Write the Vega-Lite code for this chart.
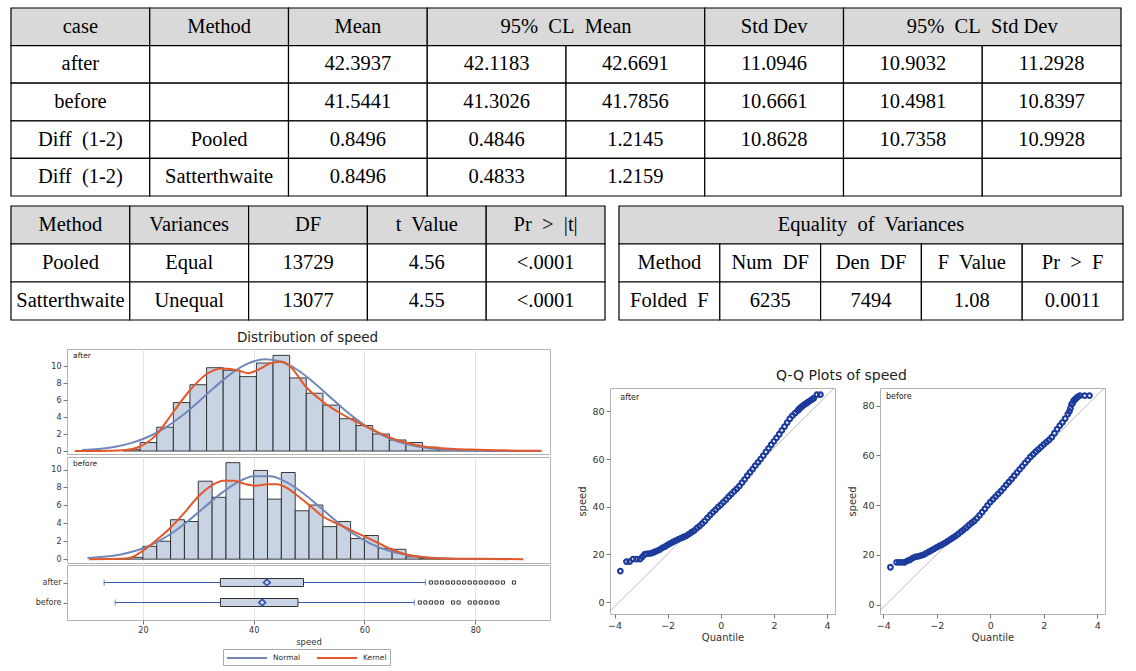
{
"$schema": "https://vega.github.io/schema/vega-lite/v6.json",
"padding": {"left": 10, "top": 7, "right": 5, "bottom": 0},
"background": "white",
"config": {
  "view": {"stroke": "#b3b3b3", "strokeWidth": 1},
  "font": "DejaVu Sans",
  "axis": {"labelFont": "DejaVu Sans", "titleFont": "DejaVu Sans", "labelColor": "#333", "titleColor": "#333", "tickColor": "#777", "domain": false, "grid": false, "titleFontWeight": "normal", "labelOverlap": false},
  "title": {"font": "DejaVu Sans", "fontWeight": "normal", "color": "#222"}
},
"datasets": {
  "t1": [
    {"r":0,"c0":0,"c1":1,"cx":0.5,"txt":"case","head":true},
    {"r":0,"c0":1,"c1":2,"cx":1.5,"txt":"Method","head":true},
    {"r":0,"c0":2,"c1":3,"cx":2.5,"txt":"Mean","head":true},
    {"r":0,"c0":3,"c1":5,"cx":4,"txt":"95%\u00a0 CL\u00a0 Mean","head":true},
    {"r":0,"c0":5,"c1":6,"cx":5.5,"txt":"Std Dev","head":true},
    {"r":0,"c0":6,"c1":8,"cx":7,"txt":"95%\u00a0 CL\u00a0 Std Dev","head":true},
    {"r":1,"c0":0,"c1":1,"cx":0.5,"txt":"after","head":false},
    {"r":1,"c0":1,"c1":2,"cx":1.5,"txt":"","head":false},
    {"r":1,"c0":2,"c1":3,"cx":2.5,"txt":"42.3937","head":false},
    {"r":1,"c0":3,"c1":4,"cx":3.5,"txt":"42.1183","head":false},
    {"r":1,"c0":4,"c1":5,"cx":4.5,"txt":"42.6691","head":false},
    {"r":1,"c0":5,"c1":6,"cx":5.5,"txt":"11.0946","head":false},
    {"r":1,"c0":6,"c1":7,"cx":6.5,"txt":"10.9032","head":false},
    {"r":1,"c0":7,"c1":8,"cx":7.5,"txt":"11.2928","head":false},
    {"r":2,"c0":0,"c1":1,"cx":0.5,"txt":"before","head":false},
    {"r":2,"c0":1,"c1":2,"cx":1.5,"txt":"","head":false},
    {"r":2,"c0":2,"c1":3,"cx":2.5,"txt":"41.5441","head":false},
    {"r":2,"c0":3,"c1":4,"cx":3.5,"txt":"41.3026","head":false},
    {"r":2,"c0":4,"c1":5,"cx":4.5,"txt":"41.7856","head":false},
    {"r":2,"c0":5,"c1":6,"cx":5.5,"txt":"10.6661","head":false},
    {"r":2,"c0":6,"c1":7,"cx":6.5,"txt":"10.4981","head":false},
    {"r":2,"c0":7,"c1":8,"cx":7.5,"txt":"10.8397","head":false},
    {"r":3,"c0":0,"c1":1,"cx":0.5,"txt":"Diff\u00a0 (1-2)","head":false},
    {"r":3,"c0":1,"c1":2,"cx":1.5,"txt":"Pooled","head":false},
    {"r":3,"c0":2,"c1":3,"cx":2.5,"txt":"0.8496","head":false},
    {"r":3,"c0":3,"c1":4,"cx":3.5,"txt":"0.4846","head":false},
    {"r":3,"c0":4,"c1":5,"cx":4.5,"txt":"1.2145","head":false},
    {"r":3,"c0":5,"c1":6,"cx":5.5,"txt":"10.8628","head":false},
    {"r":3,"c0":6,"c1":7,"cx":6.5,"txt":"10.7358","head":false},
    {"r":3,"c0":7,"c1":8,"cx":7.5,"txt":"10.9928","head":false},
    {"r":4,"c0":0,"c1":1,"cx":0.5,"txt":"Diff\u00a0 (1-2)","head":false},
    {"r":4,"c0":1,"c1":2,"cx":1.5,"txt":"Satterthwaite","head":false},
    {"r":4,"c0":2,"c1":3,"cx":2.5,"txt":"0.8496","head":false},
    {"r":4,"c0":3,"c1":4,"cx":3.5,"txt":"0.4833","head":false},
    {"r":4,"c0":4,"c1":5,"cx":4.5,"txt":"1.2159","head":false},
    {"r":4,"c0":5,"c1":6,"cx":5.5,"txt":"","head":false},
    {"r":4,"c0":6,"c1":7,"cx":6.5,"txt":"","head":false},
    {"r":4,"c0":7,"c1":8,"cx":7.5,"txt":"","head":false}
  ],
  "t2": [
    {"r":0,"c0":0,"c1":1,"cx":0.5,"txt":"Method","head":true},
    {"r":0,"c0":1,"c1":2,"cx":1.5,"txt":"Variances","head":true},
    {"r":0,"c0":2,"c1":3,"cx":2.5,"txt":"DF","head":true},
    {"r":0,"c0":3,"c1":4,"cx":3.5,"txt":"t\u00a0 Value","head":true},
    {"r":0,"c0":4,"c1":5,"cx":4.5,"txt":"Pr\u00a0 >\u00a0 |t|","head":true},
    {"r":1,"c0":0,"c1":1,"cx":0.5,"txt":"Pooled","head":false},
    {"r":1,"c0":1,"c1":2,"cx":1.5,"txt":"Equal","head":false},
    {"r":1,"c0":2,"c1":3,"cx":2.5,"txt":"13729","head":false},
    {"r":1,"c0":3,"c1":4,"cx":3.5,"txt":"4.56","head":false},
    {"r":1,"c0":4,"c1":5,"cx":4.5,"txt":"<.0001","head":false},
    {"r":2,"c0":0,"c1":1,"cx":0.5,"txt":"Satterthwaite","head":false},
    {"r":2,"c0":1,"c1":2,"cx":1.5,"txt":"Unequal","head":false},
    {"r":2,"c0":2,"c1":3,"cx":2.5,"txt":"13077","head":false},
    {"r":2,"c0":3,"c1":4,"cx":3.5,"txt":"4.55","head":false},
    {"r":2,"c0":4,"c1":5,"cx":4.5,"txt":"<.0001","head":false}
  ],
  "t3": [
    {"r":0,"c0":0,"c1":5,"cx":2.5,"txt":"Equality\u00a0 of\u00a0 Variances","head":true},
    {"r":1,"c0":0,"c1":1,"cx":0.5,"txt":"Method","head":false},
    {"r":1,"c0":1,"c1":2,"cx":1.5,"txt":"Num\u00a0 DF","head":false},
    {"r":1,"c0":2,"c1":3,"cx":2.5,"txt":"Den\u00a0 DF","head":false},
    {"r":1,"c0":3,"c1":4,"cx":3.5,"txt":"F\u00a0 Value","head":false},
    {"r":1,"c0":4,"c1":5,"cx":4.5,"txt":"Pr\u00a0 >\u00a0 F","head":false},
    {"r":2,"c0":0,"c1":1,"cx":0.5,"txt":"Folded\u00a0 F","head":false},
    {"r":2,"c0":1,"c1":2,"cx":1.5,"txt":"6235","head":false},
    {"r":2,"c0":2,"c1":3,"cx":2.5,"txt":"7494","head":false},
    {"r":2,"c0":3,"c1":4,"cx":3.5,"txt":"1.08","head":false},
    {"r":2,"c0":4,"c1":5,"cx":4.5,"txt":"0.0011","head":false}
  ],
  "bins": [
    {"case":"after","lo":16.5,"hi":19.5,"pct":0.15},
    {"case":"after","lo":19.5,"hi":22.5,"pct":1.0},
    {"case":"after","lo":22.5,"hi":25.5,"pct":2.8},
    {"case":"after","lo":25.5,"hi":28.5,"pct":5.7},
    {"case":"after","lo":28.5,"hi":31.5,"pct":7.8},
    {"case":"after","lo":31.5,"hi":34.5,"pct":9.8},
    {"case":"after","lo":34.5,"hi":37.5,"pct":9.5},
    {"case":"after","lo":37.5,"hi":40.5,"pct":8.75},
    {"case":"after","lo":40.5,"hi":43.5,"pct":10.35},
    {"case":"after","lo":43.5,"hi":46.5,"pct":11.25},
    {"case":"after","lo":46.5,"hi":49.5,"pct":8.6},
    {"case":"after","lo":49.5,"hi":52.5,"pct":6.8},
    {"case":"after","lo":52.5,"hi":55.5,"pct":5.4},
    {"case":"after","lo":55.5,"hi":58.5,"pct":3.8},
    {"case":"after","lo":58.5,"hi":61.5,"pct":3.0},
    {"case":"after","lo":61.5,"hi":64.5,"pct":2.0},
    {"case":"after","lo":64.5,"hi":67.5,"pct":1.3},
    {"case":"after","lo":67.5,"hi":70.5,"pct":1.0},
    {"case":"after","lo":70.5,"hi":73.5,"pct":0.45},
    {"case":"after","lo":73.5,"hi":76.5,"pct":0.25},
    {"case":"after","lo":76.5,"hi":79.5,"pct":0.12},
    {"case":"after","lo":79.5,"hi":82.5,"pct":0.1},
    {"case":"after","lo":82.5,"hi":85.5,"pct":0.05},
    {"case":"after","lo":85.5,"hi":88.5,"pct":0.03},
    {"case":"before","lo":15,"hi":17.5,"pct":0.05},
    {"case":"before","lo":17.5,"hi":20,"pct":0.2},
    {"case":"before","lo":20,"hi":22.5,"pct":1.43},
    {"case":"before","lo":22.5,"hi":25,"pct":2.0},
    {"case":"before","lo":25,"hi":27.5,"pct":4.4},
    {"case":"before","lo":27.5,"hi":30,"pct":4.2},
    {"case":"before","lo":30,"hi":32.5,"pct":8.7},
    {"case":"before","lo":32.5,"hi":35,"pct":6.9},
    {"case":"before","lo":35,"hi":37.5,"pct":10.77},
    {"case":"before","lo":37.5,"hi":40,"pct":6.7},
    {"case":"before","lo":40,"hi":42.5,"pct":9.9},
    {"case":"before","lo":42.5,"hi":45,"pct":6.7},
    {"case":"before","lo":45,"hi":47.5,"pct":9.67},
    {"case":"before","lo":47.5,"hi":50,"pct":5.4},
    {"case":"before","lo":50,"hi":52.5,"pct":6.04},
    {"case":"before","lo":52.5,"hi":55,"pct":3.63},
    {"case":"before","lo":55,"hi":57.5,"pct":4.2},
    {"case":"before","lo":57.5,"hi":60,"pct":2.3},
    {"case":"before","lo":60,"hi":62.5,"pct":2.64},
    {"case":"before","lo":62.5,"hi":65,"pct":1.2},
    {"case":"before","lo":65,"hi":67.5,"pct":1.1},
    {"case":"before","lo":67.5,"hi":70,"pct":0.26},
    {"case":"before","lo":70,"hi":72.5,"pct":0.1},
    {"case":"before","lo":72.5,"hi":75,"pct":0.06},
    {"case":"before","lo":75,"hi":77.5,"pct":0.04},
    {"case":"before","lo":77.5,"hi":80,"pct":0.04},
    {"case":"before","lo":80,"hi":82.5,"pct":0.05},
    {"case":"before","lo":82.5,"hi":85,"pct":0.04}
  ],
  "curves": [
    {"case":"after","curve":"Normal","x":9,"y":0.12},
    {"case":"after","curve":"Normal","x":12,"y":0.25},
    {"case":"after","curve":"Normal","x":15,"y":0.51},
    {"case":"after","curve":"Normal","x":18,"y":0.96},
    {"case":"after","curve":"Normal","x":21,"y":1.68},
    {"case":"after","curve":"Normal","x":24,"y":2.73},
    {"case":"after","curve":"Normal","x":27,"y":4.12},
    {"case":"after","curve":"Normal","x":30,"y":5.78},
    {"case":"after","curve":"Normal","x":33,"y":7.54},
    {"case":"after","curve":"Normal","x":36,"y":9.14},
    {"case":"after","curve":"Normal","x":39,"y":10.3},
    {"case":"after","curve":"Normal","x":42,"y":10.79},
    {"case":"after","curve":"Normal","x":45,"y":10.5},
    {"case":"after","curve":"Normal","x":48,"y":9.5},
    {"case":"after","curve":"Normal","x":51,"y":7.98},
    {"case":"after","curve":"Normal","x":54,"y":6.24},
    {"case":"after","curve":"Normal","x":57,"y":4.53},
    {"case":"after","curve":"Normal","x":60,"y":3.06},
    {"case":"after","curve":"Normal","x":63,"y":1.92},
    {"case":"after","curve":"Normal","x":66,"y":1.12},
    {"case":"after","curve":"Normal","x":69,"y":0.61},
    {"case":"after","curve":"Normal","x":72,"y":0.31},
    {"case":"after","curve":"Normal","x":75,"y":0.14},
    {"case":"after","curve":"Normal","x":78,"y":0.06},
    {"case":"after","curve":"Normal","x":81,"y":0.02},
    {"case":"after","curve":"Normal","x":84,"y":0.01},
    {"case":"after","curve":"Normal","x":88,"y":0},
    {"case":"after","curve":"Normal","x":92,"y":0},
    {"case":"before","curve":"Normal","x":10,"y":0.12},
    {"case":"before","curve":"Normal","x":13,"y":0.26},
    {"case":"before","curve":"Normal","x":16,"y":0.53},
    {"case":"before","curve":"Normal","x":19,"y":1.0},
    {"case":"before","curve":"Normal","x":22,"y":1.74},
    {"case":"before","curve":"Normal","x":25,"y":2.81},
    {"case":"before","curve":"Normal","x":28,"y":4.18},
    {"case":"before","curve":"Normal","x":31,"y":5.74},
    {"case":"before","curve":"Normal","x":34,"y":7.28},
    {"case":"before","curve":"Normal","x":37,"y":8.54},
    {"case":"before","curve":"Normal","x":40,"y":9.25},
    {"case":"before","curve":"Normal","x":43,"y":9.26},
    {"case":"before","curve":"Normal","x":46,"y":8.56},
    {"case":"before","curve":"Normal","x":49,"y":7.32},
    {"case":"before","curve":"Normal","x":52,"y":5.78},
    {"case":"before","curve":"Normal","x":55,"y":4.21},
    {"case":"before","curve":"Normal","x":58,"y":2.84},
    {"case":"before","curve":"Normal","x":61,"y":1.77},
    {"case":"before","curve":"Normal","x":64,"y":1.02},
    {"case":"before","curve":"Normal","x":67,"y":0.54},
    {"case":"before","curve":"Normal","x":70,"y":0.27},
    {"case":"before","curve":"Normal","x":73,"y":0.12},
    {"case":"before","curve":"Normal","x":76,"y":0.05},
    {"case":"before","curve":"Normal","x":79,"y":0.02},
    {"case":"before","curve":"Normal","x":82,"y":0.01},
    {"case":"before","curve":"Normal","x":86,"y":0},
    {"case":"after","curve":"Kernel","x":7.7,"y":0},
    {"case":"after","curve":"Kernel","x":12,"y":0.01},
    {"case":"after","curve":"Kernel","x":16.5,"y":0.08},
    {"case":"after","curve":"Kernel","x":19.4,"y":0.5},
    {"case":"after","curve":"Kernel","x":22.4,"y":1.9},
    {"case":"after","curve":"Kernel","x":25.4,"y":4.5},
    {"case":"after","curve":"Kernel","x":28.3,"y":7.0},
    {"case":"after","curve":"Kernel","x":31.4,"y":9.0},
    {"case":"after","curve":"Kernel","x":34.4,"y":9.7},
    {"case":"after","curve":"Kernel","x":37.4,"y":9.45},
    {"case":"after","curve":"Kernel","x":39,"y":9.15},
    {"case":"after","curve":"Kernel","x":40.5,"y":9.45},
    {"case":"after","curve":"Kernel","x":43.5,"y":10.4},
    {"case":"after","curve":"Kernel","x":45.2,"y":10.5},
    {"case":"after","curve":"Kernel","x":46.5,"y":10.0},
    {"case":"after","curve":"Kernel","x":49.5,"y":7.5},
    {"case":"after","curve":"Kernel","x":52.5,"y":5.8},
    {"case":"after","curve":"Kernel","x":55.5,"y":4.5},
    {"case":"after","curve":"Kernel","x":58.5,"y":3.45},
    {"case":"after","curve":"Kernel","x":61.5,"y":2.5},
    {"case":"after","curve":"Kernel","x":64.5,"y":1.6},
    {"case":"after","curve":"Kernel","x":67.4,"y":1.0},
    {"case":"after","curve":"Kernel","x":70.4,"y":0.57},
    {"case":"after","curve":"Kernel","x":73.4,"y":0.35},
    {"case":"after","curve":"Kernel","x":76.3,"y":0.23},
    {"case":"after","curve":"Kernel","x":80.3,"y":0.15},
    {"case":"after","curve":"Kernel","x":84.8,"y":0.08},
    {"case":"after","curve":"Kernel","x":88,"y":0.04},
    {"case":"after","curve":"Kernel","x":91.9,"y":0.02},
    {"case":"before","curve":"Kernel","x":10.3,"y":0},
    {"case":"before","curve":"Kernel","x":14,"y":0.02},
    {"case":"before","curve":"Kernel","x":17.4,"y":0.1},
    {"case":"before","curve":"Kernel","x":19.9,"y":0.9},
    {"case":"before","curve":"Kernel","x":22.4,"y":2.1},
    {"case":"before","curve":"Kernel","x":24.8,"y":3.4},
    {"case":"before","curve":"Kernel","x":27.4,"y":5.1},
    {"case":"before","curve":"Kernel","x":30,"y":7.0},
    {"case":"before","curve":"Kernel","x":32.6,"y":8.3},
    {"case":"before","curve":"Kernel","x":34.5,"y":8.75},
    {"case":"before","curve":"Kernel","x":36.5,"y":8.75},
    {"case":"before","curve":"Kernel","x":38.4,"y":8.4},
    {"case":"before","curve":"Kernel","x":40.3,"y":8.2},
    {"case":"before","curve":"Kernel","x":42.6,"y":8.35},
    {"case":"before","curve":"Kernel","x":44.2,"y":8.35},
    {"case":"before","curve":"Kernel","x":46.1,"y":7.9},
    {"case":"before","curve":"Kernel","x":48.1,"y":7.0},
    {"case":"before","curve":"Kernel","x":50,"y":6.05},
    {"case":"before","curve":"Kernel","x":52.5,"y":4.76},
    {"case":"before","curve":"Kernel","x":54.9,"y":4.0},
    {"case":"before","curve":"Kernel","x":57.4,"y":3.3},
    {"case":"before","curve":"Kernel","x":59.9,"y":2.56},
    {"case":"before","curve":"Kernel","x":62.4,"y":1.83},
    {"case":"before","curve":"Kernel","x":64.8,"y":1.1},
    {"case":"before","curve":"Kernel","x":67.4,"y":0.55},
    {"case":"before","curve":"Kernel","x":70,"y":0.26},
    {"case":"before","curve":"Kernel","x":72.6,"y":0.1},
    {"case":"before","curve":"Kernel","x":76,"y":0.05},
    {"case":"before","curve":"Kernel","x":80.3,"y":0.05},
    {"case":"before","curve":"Kernel","x":84,"y":0.03},
    {"case":"before","curve":"Kernel","x":88.7,"y":0}
  ],
  "box": [
    {"case":"after","lo":13,"q1":34,"q3":49,"hi":71,"mean":42.39},
    {"case":"before","lo":15,"q1":34,"q3":48,"hi":69,"mean":41.54}
  ],
  "outliers": [
    {"case":"after","v":72},{"case":"after","v":73},{"case":"after","v":74},{"case":"after","v":75},{"case":"after","v":76},{"case":"after","v":77},{"case":"after","v":78},{"case":"after","v":79},{"case":"after","v":80},{"case":"after","v":81},{"case":"after","v":82},{"case":"after","v":83},{"case":"after","v":84},{"case":"after","v":85},{"case":"after","v":87},
    {"case":"before","v":70},{"case":"before","v":71},{"case":"before","v":72},{"case":"before","v":73},{"case":"before","v":74},{"case":"before","v":76},{"case":"before","v":77},{"case":"before","v":79},{"case":"before","v":80},{"case":"before","v":81},{"case":"before","v":82},{"case":"before","v":83},{"case":"before","v":84}
  ],
  "diag": [
    {"case":"after","q0":-4.17,"s0":-3.86,"q1":4.3,"s1":90.08},
    {"case":"before","q0":-4.12,"s0":-2.42,"q1":4.29,"s1":87.31}
  ],
  "qqa": [
    {"q":-3.78,"s":13},{"q":-3.55,"s":17},{"q":-3.43,"s":17},{"q":-3.3,"s":18},{"q":-3.17,"s":18},{"q":-3.04,"s":18},{"q":-2.95,"s":19},{"q":-2.87,"s":20},
    {"q":-2.8,"s":20.2},{"q":-2.7,"s":20.3},{"q":-2.6,"s":20.5},{"q":-2.5,"s":21},{"q":-2.4,"s":21.5},{"q":-2.3,"s":22},{"q":-2.2,"s":22.7},{"q":-2.1,"s":23.3},
    {"q":-2.0,"s":24},{"q":-1.9,"s":24.6},{"q":-1.8,"s":25.2},{"q":-1.7,"s":25.8},{"q":-1.6,"s":26.3},{"q":-1.5,"s":26.8},{"q":-1.4,"s":27.3},{"q":-1.3,"s":27.8},
    {"q":-1.2,"s":28.5},{"q":-1.1,"s":29.3},{"q":-1.0,"s":30},{"q":-0.9,"s":31},{"q":-0.8,"s":31.9},{"q":-0.7,"s":32.9},{"q":-0.6,"s":34},{"q":-0.5,"s":35.3},
    {"q":-0.4,"s":36.5},{"q":-0.3,"s":37.6},{"q":-0.2,"s":38.7},{"q":-0.1,"s":39.8},{"q":0,"s":40.8},{"q":0.1,"s":41.9},{"q":0.2,"s":43},{"q":0.3,"s":44.2},
    {"q":0.4,"s":45.3},{"q":0.5,"s":46.4},{"q":0.6,"s":47.5},{"q":0.7,"s":48.6},{"q":0.8,"s":50.1},{"q":0.9,"s":51.5},{"q":1.0,"s":53},{"q":1.1,"s":54.4},
    {"q":1.2,"s":55.8},{"q":1.3,"s":57.2},{"q":1.4,"s":58.6},{"q":1.5,"s":60},{"q":1.6,"s":61.4},{"q":1.7,"s":63},{"q":1.8,"s":64.5},{"q":1.9,"s":66},
    {"q":2.0,"s":67.4},{"q":2.1,"s":68.9},{"q":2.2,"s":70.4},{"q":2.3,"s":72},{"q":2.4,"s":73.6},{"q":2.5,"s":75.3},{"q":2.6,"s":76.9},{"q":2.7,"s":78.2},
    {"q":2.8,"s":79.3},{"q":2.9,"s":80.3},{"q":2.95,"s":81},{"q":3.0,"s":81.5},{"q":3.05,"s":82},{"q":3.11,"s":82.5},{"q":3.17,"s":83},{"q":3.24,"s":83.5},
    {"q":3.3,"s":84},{"q":3.37,"s":84.5},{"q":3.44,"s":85},{"q":3.5,"s":85.5},{"q":3.62,"s":87},{"q":3.75,"s":87}
  ],
  "qqb": [
    {"q":-3.73,"s":15},{"q":-3.5,"s":17},{"q":-3.4,"s":17},{"q":-3.3,"s":17},{"q":-3.2,"s":17},{"q":-3.1,"s":17.6},{"q":-3.0,"s":18},{"q":-2.9,"s":18.7},
    {"q":-2.8,"s":19.2},{"q":-2.7,"s":19.4},{"q":-2.6,"s":19.7},{"q":-2.5,"s":20},{"q":-2.4,"s":20.6},{"q":-2.3,"s":21.2},{"q":-2.2,"s":21.8},{"q":-2.1,"s":22.4},
    {"q":-2.0,"s":23},{"q":-1.9,"s":23.6},{"q":-1.8,"s":24.1},{"q":-1.7,"s":24.7},{"q":-1.6,"s":25.4},{"q":-1.5,"s":26.1},{"q":-1.4,"s":26.8},{"q":-1.3,"s":27.5},
    {"q":-1.2,"s":28.3},{"q":-1.1,"s":29.2},{"q":-1.0,"s":30},{"q":-0.9,"s":30.9},{"q":-0.8,"s":31.9},{"q":-0.7,"s":32.8},{"q":-0.6,"s":33.6},{"q":-0.5,"s":34.7},
    {"q":-0.4,"s":35.9},{"q":-0.3,"s":37.2},{"q":-0.2,"s":38.5},{"q":-0.1,"s":39.9},{"q":0,"s":41.2},{"q":0.1,"s":42.3},{"q":0.2,"s":43.4},{"q":0.3,"s":44.5},
    {"q":0.4,"s":45.6},{"q":0.5,"s":46.8},{"q":0.6,"s":48.1},{"q":0.7,"s":49.3},{"q":0.8,"s":50.5},{"q":0.9,"s":51.8},{"q":1.0,"s":53.1},{"q":1.1,"s":54.4},
    {"q":1.2,"s":55.6},{"q":1.3,"s":56.9},{"q":1.4,"s":58.1},{"q":1.5,"s":59.4},{"q":1.6,"s":60.4},{"q":1.7,"s":61.5},{"q":1.8,"s":62.4},{"q":1.9,"s":63.4},
    {"q":2.0,"s":64.4},{"q":2.1,"s":65.3},{"q":2.2,"s":66.2},{"q":2.3,"s":67.3},{"q":2.4,"s":68.9},{"q":2.5,"s":70.5},{"q":2.6,"s":72},{"q":2.7,"s":73.3},
    {"q":2.8,"s":74.8},{"q":2.9,"s":76.6},{"q":2.96,"s":77.7},{"q":3.0,"s":79},{"q":3.04,"s":80.5},{"q":3.08,"s":81},{"q":3.12,"s":82},{"q":3.17,"s":82.5},
    {"q":3.22,"s":83},{"q":3.27,"s":83.5},{"q":3.35,"s":84},{"q":3.53,"s":84},{"q":3.71,"s":84}
  ]
},
"resolve": {"scale": {"color": "independent"}},
"spacing": 10,
"vconcat": [
  {
    "spacing": 8,
    "vconcat": [
      {
        "width": 1110, "height": 188,
        "data": {"name": "t1"},
        "view": {"stroke": null},
        "encoding": {"y": {"field": "r", "type": "ordinal", "axis": null, "scale": {"paddingInner": 0, "paddingOuter": 0}}},
        "layer": [
          {"mark": {"type": "rect", "stroke": "black", "strokeWidth": 1.2},
           "encoding": {"x": {"field": "c0", "type": "quantitative", "axis": null, "scale": {"domain": [0, 8], "nice": false, "zero": false}}, "x2": {"field": "c1"},
             "fill": {"condition": {"test": "datum.head", "value": "#d9d9d9"}, "value": "white"}}},
          {"mark": {"type": "text", "font": "Liberation Serif", "fontSize": 20.5, "color": "black"},
           "encoding": {"x": {"field": "cx", "type": "quantitative"}, "text": {"field": "txt"}}}
        ]
      },
      {
        "spacing": 12,
        "hconcat": [
          {
            "width": 594, "height": 114,
            "data": {"name": "t2"},
            "view": {"stroke": null},
            "encoding": {"y": {"field": "r", "type": "ordinal", "axis": null, "scale": {"paddingInner": 0, "paddingOuter": 0}}},
            "layer": [
              {"mark": {"type": "rect", "stroke": "black", "strokeWidth": 1.2},
               "encoding": {"x": {"field": "c0", "type": "quantitative", "axis": null, "scale": {"domain": [0, 5], "nice": false, "zero": false}}, "x2": {"field": "c1"},
                 "fill": {"condition": {"test": "datum.head", "value": "#d9d9d9"}, "value": "white"}}},
              {"mark": {"type": "text", "font": "Liberation Serif", "fontSize": 20.5, "color": "black"},
               "encoding": {"x": {"field": "cx", "type": "quantitative"}, "text": {"field": "txt"}}}
            ]
          },
          {
            "width": 504, "height": 114,
            "data": {"name": "t3"},
            "view": {"stroke": null},
            "encoding": {"y": {"field": "r", "type": "ordinal", "axis": null, "scale": {"paddingInner": 0, "paddingOuter": 0}}},
            "layer": [
              {"mark": {"type": "rect", "stroke": "black", "strokeWidth": 1.2},
               "encoding": {"x": {"field": "c0", "type": "quantitative", "axis": null, "scale": {"domain": [0, 5], "nice": false, "zero": false}}, "x2": {"field": "c1"},
                 "fill": {"condition": {"test": "datum.head", "value": "#d9d9d9"}, "value": "white"}}},
              {"mark": {"type": "text", "font": "Liberation Serif", "fontSize": 20.5, "color": "black"},
               "encoding": {"x": {"field": "cx", "type": "quantitative"}, "text": {"field": "txt"}}}
            ]
          }
        ]
      }
    ]
  },
  {
    "spacing": 0,
    "resolve": {"scale": {"color": "independent"}},
    "hconcat": [
      {"width": 1, "height": 1, "data": {"values": []}, "mark": "point", "view": {"stroke": null, "fill": "white"}},
      {
        "spacing": 26,
        "resolve": {"scale": {"color": "independent"}},
        "hconcat": [
          {
            "title": {"text": "Distribution of speed", "fontSize": 13.5, "offset": 4, "anchor": "middle", "dx": 26},
            "spacing": 0,
            "vconcat": [
              {
                "width": 483, "height": 105,
                "layer": [
                  {"data": {"name": "bins"}, "transform": [{"filter": "datum.case == 'after'"}],
                   "mark": {"type": "rect", "fill": "#c8d3e3", "stroke": "#262626", "strokeWidth": 0.9},
                   "encoding": {
                     "x": {"field": "lo", "type": "quantitative", "scale": {"domain": [6.3, 93.5], "nice": false, "zero": false}, "axis": {"grid": true, "gridColor": "#e3e3e3", "values": [20, 40, 60, 80], "labels": false, "ticks": false, "title": null, "minExtent": 0, "maxExtent": 0}},
                     "x2": {"field": "hi"},
                     "y": {"field": "pct", "type": "quantitative", "scale": {"domain": [-0.35, 12], "nice": false, "zero": false}, "axis": {"values": [0, 2, 4, 6, 8, 10], "tickSize": 4, "labelFontSize": 8, "title": null, "minExtent": 54, "maxExtent": 54}},
                     "y2": {"datum": 0}}},
                  {"data": {"name": "curves"}, "transform": [{"filter": "datum.case == 'after'"}],
                   "mark": {"type": "line", "interpolate": "monotone", "strokeWidth": 2},
                   "encoding": {
                     "x": {"field": "x", "type": "quantitative", "axis": {"grid": true, "gridColor": "#e3e3e3", "values": [20, 40, 60, 80], "labels": false, "ticks": false, "title": null, "minExtent": 0, "maxExtent": 0}},
                     "y": {"field": "y", "type": "quantitative", "axis": {"values": [0, 2, 4, 6, 8, 10], "tickSize": 4, "labelFontSize": 8, "title": null, "minExtent": 54, "maxExtent": 54}},
                     "color": {"field": "curve", "type": "nominal", "sort": ["Normal", "Kernel"], "scale": {"domain": ["Normal", "Kernel"], "range": ["#7088b8", "#e3582b"]},
                       "legend": {"orient": "none", "legendX": 156, "legendY": 300, "direction": "horizontal", "title": null, "symbolType": "M-4,0H4", "symbolStrokeWidth": 2, "symbolSize": 100, "symbolOffset": 15, "labelOffset": 20, "labelFontSize": 7.5, "labelColor": "#333", "strokeColor": "#aaa", "padding": 3, "columnPadding": 12}}}},
                  {"data": {"values": [{"label": "after"}]},
                   "mark": {"type": "text", "align": "left", "baseline": "middle", "fontSize": 7.5, "color": "#222"},
                   "encoding": {
                     "x": {"datum": 7.4, "type": "quantitative", "axis": {"grid": true, "gridColor": "#e3e3e3", "values": [20, 40, 60, 80], "labels": false, "ticks": false, "title": null, "minExtent": 0, "maxExtent": 0}},
                     "y": {"datum": 11.2, "type": "quantitative", "axis": {"values": [0, 2, 4, 6, 8, 10], "tickSize": 4, "labelFontSize": 8, "title": null, "minExtent": 54, "maxExtent": 54}},
                     "text": {"field": "label"}}}
                ]
              },
              {
                "width": 483, "height": 106,
                "layer": [
                  {"data": {"name": "bins"}, "transform": [{"filter": "datum.case == 'before'"}],
                   "mark": {"type": "rect", "fill": "#c8d3e3", "stroke": "#262626", "strokeWidth": 0.9},
                   "encoding": {
                     "x": {"field": "lo", "type": "quantitative", "scale": {"domain": [6.3, 93.5], "nice": false, "zero": false}, "axis": {"grid": true, "gridColor": "#e3e3e3", "values": [20, 40, 60, 80], "labels": false, "ticks": false, "title": null, "minExtent": 0, "maxExtent": 0}},
                     "x2": {"field": "hi"},
                     "y": {"field": "pct", "type": "quantitative", "scale": {"domain": [-0.43, 11.4], "nice": false, "zero": false}, "axis": {"values": [0, 2, 4, 6, 8, 10], "tickSize": 4, "labelFontSize": 8, "title": null, "minExtent": 54, "maxExtent": 54}},
                     "y2": {"datum": 0}}},
                  {"data": {"name": "curves"}, "transform": [{"filter": "datum.case == 'before'"}],
                   "mark": {"type": "line", "interpolate": "monotone", "strokeWidth": 2},
                   "encoding": {
                     "x": {"field": "x", "type": "quantitative", "axis": {"grid": true, "gridColor": "#e3e3e3", "values": [20, 40, 60, 80], "labels": false, "ticks": false, "title": null, "minExtent": 0, "maxExtent": 0}},
                     "y": {"field": "y", "type": "quantitative", "axis": {"values": [0, 2, 4, 6, 8, 10], "tickSize": 4, "labelFontSize": 8, "title": null, "minExtent": 54, "maxExtent": 54}},
                     "color": {"field": "curve", "type": "nominal", "sort": ["Normal", "Kernel"], "scale": {"domain": ["Normal", "Kernel"], "range": ["#7088b8", "#e3582b"]},
                       "legend": {"orient": "none", "legendX": 156, "legendY": 300, "direction": "horizontal", "title": null, "symbolType": "M-4,0H4", "symbolStrokeWidth": 2, "symbolSize": 100, "symbolOffset": 15, "labelOffset": 20, "labelFontSize": 7.5, "labelColor": "#333", "strokeColor": "#aaa", "padding": 3, "columnPadding": 12}}}},
                  {"data": {"values": [{"label": "before"}]},
                   "mark": {"type": "text", "align": "left", "baseline": "middle", "fontSize": 7.5, "color": "#222"},
                   "encoding": {
                     "x": {"datum": 7.4, "type": "quantitative", "axis": {"grid": true, "gridColor": "#e3e3e3", "values": [20, 40, 60, 80], "labels": false, "ticks": false, "title": null, "minExtent": 0, "maxExtent": 0}},
                     "y": {"datum": 10.6, "type": "quantitative", "axis": {"values": [0, 2, 4, 6, 8, 10], "tickSize": 4, "labelFontSize": 8, "title": null, "minExtent": 54, "maxExtent": 54}},
                     "text": {"field": "label"}}}
                ]
              },
              {
                "width": 483, "height": 55,
                "encoding": {"y": {"field": "case", "type": "nominal", "scale": {"type": "point", "domain": ["after", "before"], "padding": 0.875}, "axis": {"title": null, "labelFontSize": 8, "tickSize": 4, "minExtent": 54, "maxExtent": 54}}},
                "layer": [
                  {"data": {"name": "box"},
                   "mark": {"type": "rule", "color": "#3a5ab5", "strokeWidth": 1},
                   "encoding": {"x": {"field": "lo", "type": "quantitative", "scale": {"domain": [6.3, 93.5], "nice": false, "zero": false}, "axis": {"grid": true, "gridColor": "#e3e3e3", "values": [20, 40, 60, 80], "title": "speed", "labelFontSize": 8, "titleFontSize": 8.5, "tickSize": 4, "labelPadding": 2, "titlePadding": 3}}, "x2": {"field": "hi"}}},
                  {"data": {"name": "box"},
                   "mark": {"type": "tick", "orient": "vertical", "color": "#3a5ab5", "size": 6, "thickness": 1},
                   "encoding": {"x": {"field": "lo", "type": "quantitative"}}},
                  {"data": {"name": "box"},
                   "mark": {"type": "tick", "orient": "vertical", "color": "#3a5ab5", "size": 6, "thickness": 1},
                   "encoding": {"x": {"field": "hi", "type": "quantitative"}}},
                  {"data": {"name": "box"},
                   "mark": {"type": "bar", "fill": "#c8d3e3", "stroke": "#333", "strokeWidth": 1, "size": 8},
                   "encoding": {"x": {"field": "q1", "type": "quantitative"}, "x2": {"field": "q3"}}},
                  {"data": {"name": "box"},
                   "mark": {"type": "point", "shape": "diamond", "filled": false, "size": 45, "strokeWidth": 1.6, "color": "#2f50b0", "opacity": 1},
                   "encoding": {"x": {"field": "mean", "type": "quantitative"}}},
                  {"data": {"name": "outliers"},
                   "mark": {"type": "point", "shape": "square", "filled": false, "size": 10, "strokeWidth": 0.9, "color": "#222", "opacity": 1},
                   "encoding": {"x": {"field": "v", "type": "quantitative"}}}
                ]
              }
            ]
          },
          {
            "spacing": 0,
            "vconcat": [
              {"width": 1, "height": 19, "data": {"values": []}, "mark": "point", "view": {"stroke": null, "fill": "white"}},
              {
                "title": {"text": "Q-Q Plots of speed", "fontSize": 14, "offset": 5, "anchor": "middle"},
                "spacing": 11,
                "hconcat": [
                  {
                    "width": 225, "height": 226,
                    "layer": [
                      {"data": {"name": "diag"}, "transform": [{"filter": "datum.case == 'after'"}],
                       "mark": {"type": "rule", "clip": true, "color": "#a8a8a8", "strokeWidth": 0.8},
                       "encoding": {
                         "x": {"field": "q0", "type": "quantitative", "scale": {"domain": [-4.17, 4.3], "nice": false, "zero": false}, "axis": {"values": [-4, -2, 0, 2, 4], "title": "Quantile", "labelFontSize": 9.5, "titleFontSize": 10, "tickSize": 4, "labelPadding": 2, "titlePadding": 3}},
                         "y": {"field": "s0", "type": "quantitative", "scale": {"domain": [-5, 89.8], "nice": false, "zero": false}, "axis": {"values": [0, 20, 40, 60, 80], "title": "speed", "labelFontSize": 9.5, "titleFontSize": 10, "tickSize": 4, "labelPadding": 2, "titlePadding": 4}},
                         "x2": {"field": "q1"}, "y2": {"field": "s1"}}},
                      {"data": {"name": "qqa"},
                       "mark": {"type": "point", "filled": false, "size": 22, "strokeWidth": 2.1, "color": "#1b3a9c", "opacity": 1},
                       "encoding": {"x": {"field": "q", "type": "quantitative"}, "y": {"field": "s", "type": "quantitative"}}},
                      {"data": {"values": [{"label": "after"}]},
                       "mark": {"type": "text", "align": "left", "baseline": "middle", "fontSize": 8, "color": "#222"},
                       "encoding": {"x": {"datum": -3.78, "type": "quantitative"}, "y": {"datum": 85.6, "type": "quantitative"}, "text": {"field": "label"}}}
                    ]
                  },
                  {
                    "width": 225, "height": 226,
                    "layer": [
                      {"data": {"name": "diag"}, "transform": [{"filter": "datum.case == 'before'"}],
                       "mark": {"type": "rule", "clip": true, "color": "#a8a8a8", "strokeWidth": 0.8},
                       "encoding": {
                         "x": {"field": "q0", "type": "quantitative", "scale": {"domain": [-4.12, 4.29], "nice": false, "zero": false}, "axis": {"values": [-4, -2, 0, 2, 4], "title": "Quantile", "labelFontSize": 9.5, "titleFontSize": 10, "tickSize": 4, "labelPadding": 2, "titlePadding": 3}},
                         "y": {"field": "s0", "type": "quantitative", "scale": {"domain": [-3.8, 87.1], "nice": false, "zero": false}, "axis": {"values": [0, 20, 40, 60, 80], "title": "speed", "labelFontSize": 9.5, "titleFontSize": 10, "tickSize": 4, "labelPadding": 2, "titlePadding": 4}},
                         "x2": {"field": "q1"}, "y2": {"field": "s1"}}},
                      {"data": {"name": "qqb"},
                       "mark": {"type": "point", "filled": false, "size": 22, "strokeWidth": 2.1, "color": "#1b3a9c", "opacity": 1},
                       "encoding": {"x": {"field": "q", "type": "quantitative"}, "y": {"field": "s", "type": "quantitative"}}},
                      {"data": {"values": [{"label": "before"}]},
                       "mark": {"type": "text", "align": "left", "baseline": "middle", "fontSize": 8, "color": "#222"},
                       "encoding": {"x": {"datum": -3.9, "type": "quantitative"}, "y": {"datum": 83.5, "type": "quantitative"}, "text": {"field": "label"}}}
                    ]
                  }
                ]
              }
            ]
          }
        ]
      }
    ]
  }
]
}
